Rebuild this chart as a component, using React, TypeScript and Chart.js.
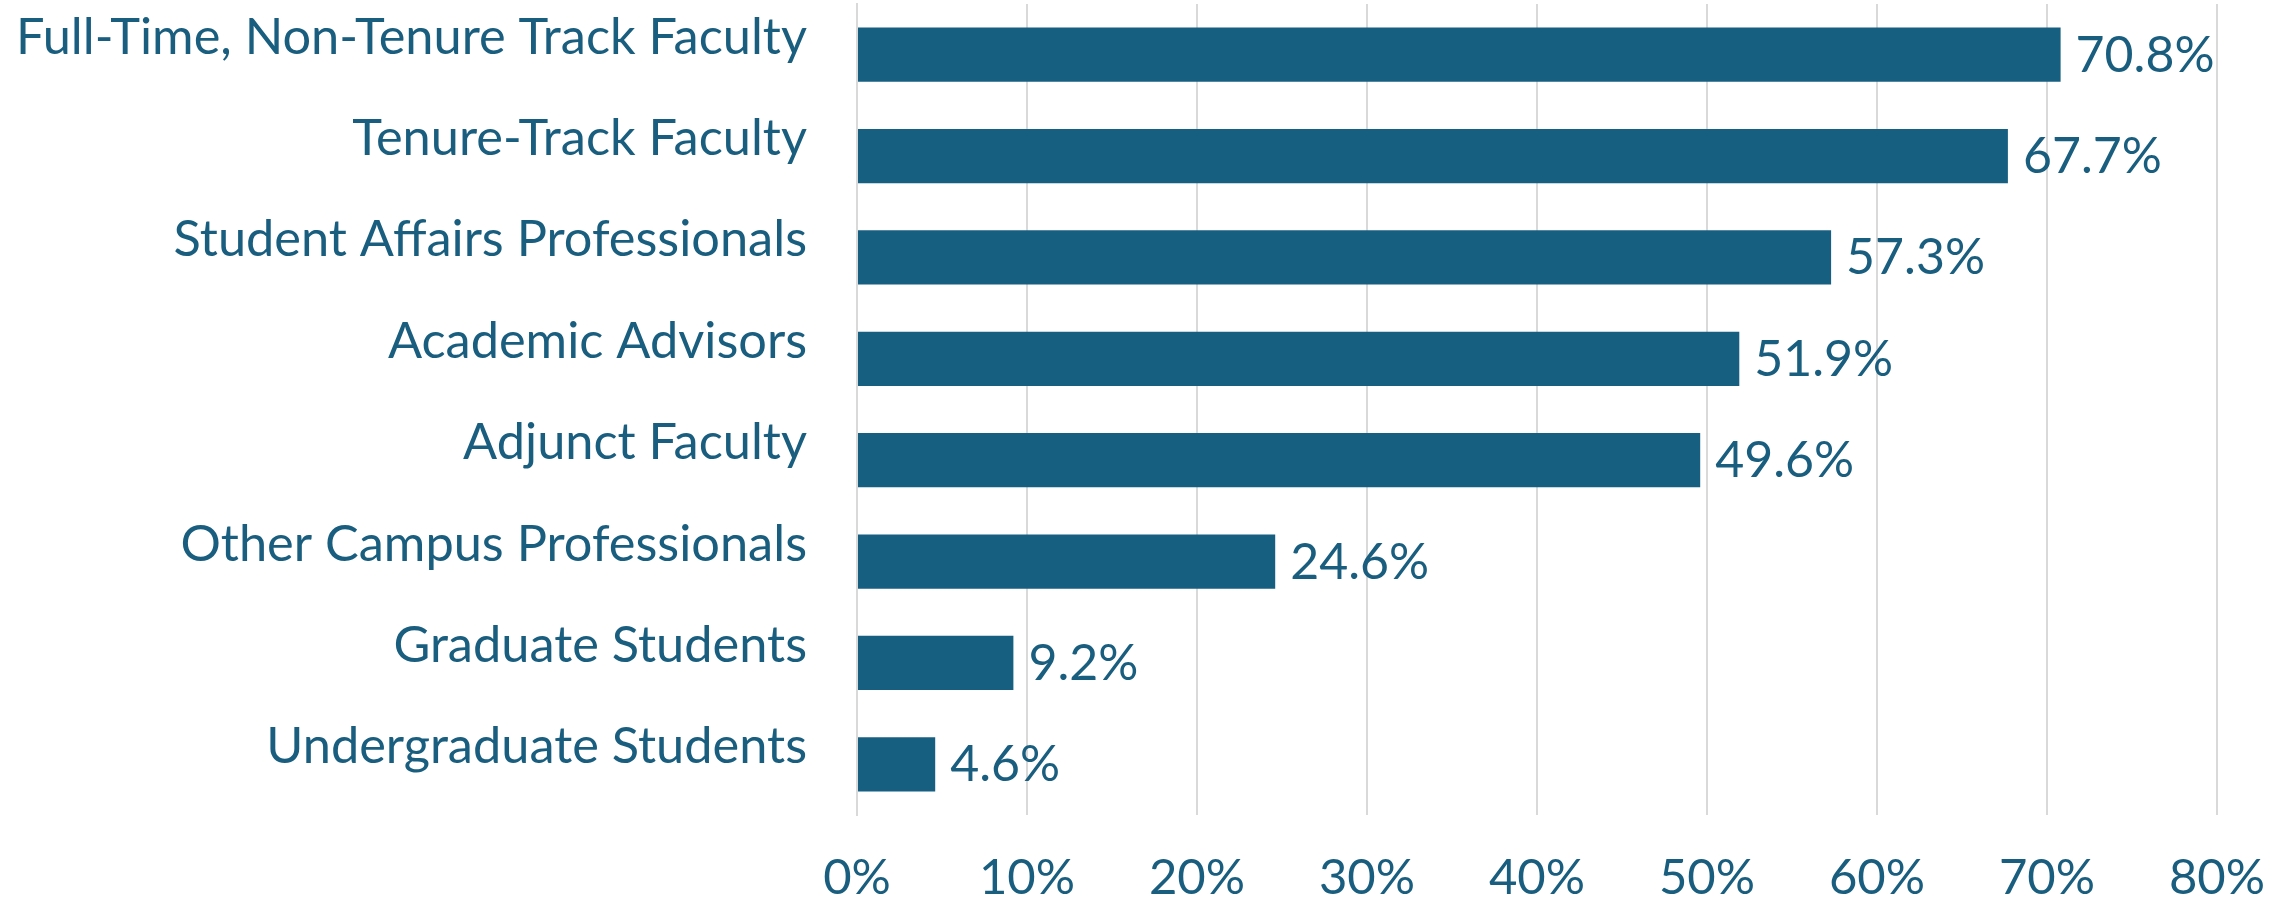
import React, { useEffect, useRef } from "react";
import { Chart, registerables } from "chart.js";

Chart.register(...registerables);

const categories = [
  "Full-Time, Non-Tenure Track Faculty",
  "Tenure-Track Faculty",
  "Student Affairs Professionals",
  "Academic Advisors",
  "Adjunct Faculty",
  "Other Campus Professionals",
  "Graduate Students",
  "Undergraduate Students",
];
const values = [70.8, 67.7, 57.3, 51.9, 49.6, 24.6, 9.2, 4.6];
const xTicks = [0, 10, 20, 30, 40, 50, 60, 70, 80];

const BAR_COLOR = "#175f80";
const TEXT_COLOR = "#1a5e7f";
const FONT = "Lato";

const textLabels = {
  id: "textLabels",
  afterDatasetsDraw(chart: any) {
    const ctx = chart.ctx;
    const meta = chart.getDatasetMeta(0);
    const yScale = chart.scales.y;
    ctx.save();
    ctx.fillStyle = TEXT_COLOR;
    ctx.textBaseline = "alphabetic";
    // value labels
    ctx.font = `50px ${FONT}`;
    ctx.textAlign = "left";
    meta.data.forEach((bar: any, i: number) => {
      ctx.fillText(values[i].toFixed(1) + "%", bar.x + 15, bar.y + 17);
    });
    // category labels
    ctx.font = `50.5px ${FONT}`;
    ctx.textAlign = "right";
    categories.forEach((c, i) => {
      const y = yScale.getPixelForValue(i);
      ctx.fillText(c, chart.chartArea.left - 50, y - 1);
    });
    ctx.restore();
  },
};

export default function App() {
  const ref = useRef<HTMLCanvasElement>(null);
  useEffect(() => {
    document.body.style.margin = "0";
    const chart = new Chart(ref.current!, {
      type: "bar",
      data: {
        labels: categories,
        datasets: [
          {
            data: values,
            backgroundColor: BAR_COLOR,
            borderWidth: 0,
            categoryPercentage: 1,
            barPercentage: 0.535,
          },
        ],
      },
      options: {
        indexAxis: "y",
        animation: false,
        responsive: false,
        maintainAspectRatio: false,
        layout: { padding: { top: 4, right: 71, left: 0, bottom: 0 } },
        plugins: { legend: { display: false }, tooltip: { enabled: false } },
        scales: {
          x: {
            min: 0,
            max: 80,
            afterBuildTicks(scale: any) {
              scale.ticks = xTicks.map((v) => ({ value: v }));
            },
            afterFit(scale: any) {
              scale.height = 85;
            },
            grid: {
              color: "#d9d9d9",
              lineWidth: 2,
              drawTicks: true,
              tickLength: 34,
              tickColor: "rgba(0,0,0,0)",
            },
            border: { display: false },
            ticks: {
              color: TEXT_COLOR,
              font: { family: FONT, size: 49 },
              padding: 0,
              maxRotation: 0,
              autoSkip: false,
              callback: (v: any) => v + "%",
            },
          },
          y: {
            afterFit(scale: any) {
              scale.width = 857;
            },
            grid: { display: false, drawTicks: false },
            border: { display: true, color: "#d9d9d9", width: 2 },
            ticks: { display: false },
          },
        },
      },
      plugins: [textLabels],
    });
    return () => chart.destroy();
  }, []);
  return (
    <div style={{ width: 2288, height: 900 }}>
      <canvas ref={ref} width={2288} height={900} style={{ display: "block" }} />
    </div>
  );
}
